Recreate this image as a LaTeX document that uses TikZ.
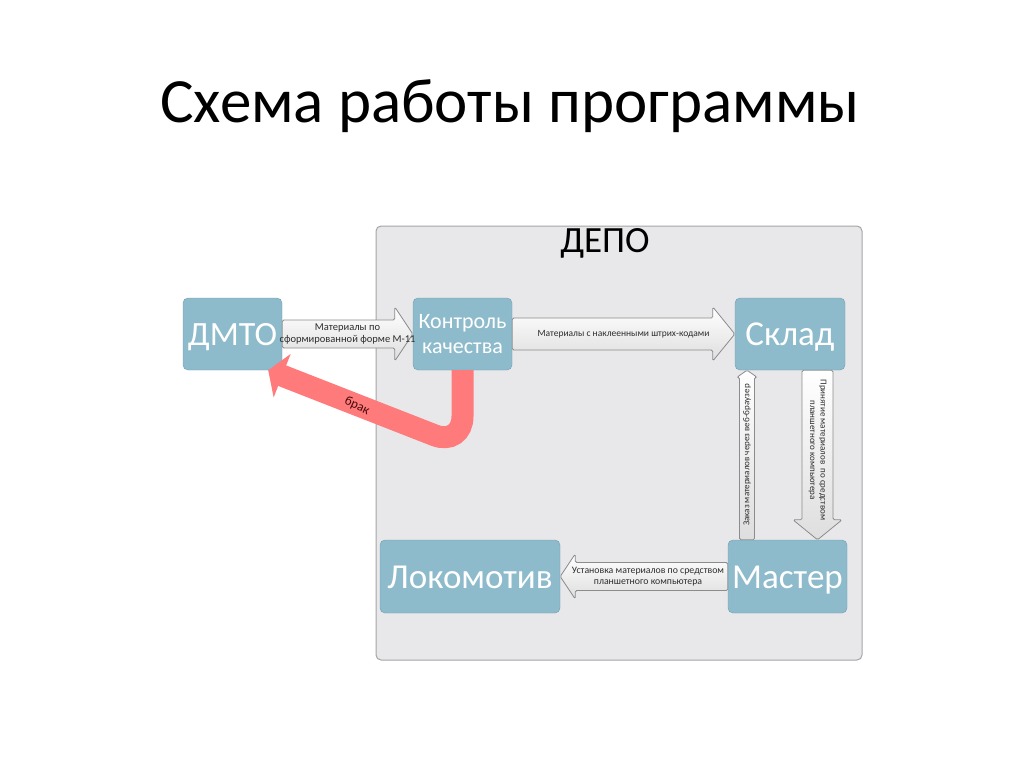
\documentclass[tikz,border=0pt]{standalone}
\usepackage{fontspec}
\setmainfont{Carlito}
\usetikzlibrary{calc,arrows.meta}
\definecolor{boxblue}{RGB}{142,187,204}
\definecolor{boxline}{RGB}{112,156,175}
\definecolor{depofill}{RGB}{232,232,234}
\definecolor{depoline}{RGB}{165,165,168}
\definecolor{brakred}{RGB}{255,122,122}
\definecolor{braktxt}{RGB}{70,10,10}
\definecolor{arrline}{RGB}{140,140,140}
\definecolor{arrtxt}{RGB}{45,45,45}

%% block arrow: tail, tip, half body, half head, head length
\newcommand{\blockarrow}[5]{%
  \coordinate (hb) at ($(#2)!#5!(#1)$);
  \draw[blockarr] ($(#1)!#3!90:(#2)$) -- ($(hb)!#3!90:(#2)$) -- ($(hb)!#4!90:(#2)$) -- (#2)
    -- ($(hb)!#4!-90:(#2)$) -- ($(hb)!#3!-90:(#2)$) -- ($(#1)!#3!-90:(#2)$) -- cycle;}

\begin{document}
\begin{tikzpicture}[x=1pt,y=-1pt,
    box/.style={draw=boxline, fill=boxblue, rounded corners=5pt, text=white, align=center, inner sep=0pt},
    bigtext/.style={font=\fontsize{35}{38}\selectfont, text height=23pt, text depth=0pt},
    depo/.style={draw=depoline, fill=depofill, rounded corners=5pt, line width=1pt, inner sep=0pt},
    blockarr/.style={draw=arrline, top color=white, bottom color=black!13, rounded corners=1.5pt, line width=0.8pt},
    arrtext/.style={text=arrtxt, font=\fontsize{9.5}{11.5}\selectfont, align=center, inner sep=0pt},
    brak/.style={draw=brakred, line width=22pt, rounded corners=30pt, -{Triangle[length=15pt,width=46pt]}}]
  \useasboundingbox (0,0) rectangle (1024,768);

  %%title
  \node[anchor=base, font=\fontsize{63}{70}\selectfont] (title) at (510,122) {Схема работы программы};

  %%depo
  \node[depo, minimum width=486pt, minimum height=434pt] (depo) at (619,443) {};
  \node[anchor=base, font=\fontsize{37}{40}\selectfont] (depolabel) at (605,252) {ДЕПО};

  %%boxes
  \node[box, bigtext, minimum width=99pt, minimum height=72pt, font=\fontsize{34}{36}\selectfont] (dmto) at (232.5,334) {ДМТО};
  \node[box, minimum width=99pt, minimum height=72pt, font=\fontsize{22}{25}\selectfont] (kk) at (462.5,334) {Контроль\\качества};
  \node[box, bigtext, minimum width=110pt, minimum height=72pt] (sklad) at (790,334) {Склад};
  \node[box, bigtext, minimum width=180pt, minimum height=73pt] (loko) at (470,576.5) {Локомотив};
  \node[box, bigtext, minimum width=119pt, minimum height=73pt] (master) at (787.5,576.5) {Мастер};

  %%brak
  \coordinate (bend) at ($(kk.south)+(0,76)$);
  \coordinate (brakend) at ([xshift=-14pt]dmto.south east);
  \draw[brak] (kk.south) -- (bend) -- (brakend);
  \node[text=braktxt, font=\fontsize{13}{14}\selectfont, rotate=-25, inner sep=0pt] (braklabel) at (357,406) {брак};

  %%arrows
  \blockarrow{dmto.east}{kk.west}{14pt}{27pt}{18pt}
  \blockarrow{kk.east}{sklad.west}{16pt}{27pt}{22pt}
  \coordinate (upa) at ([xshift=-40.5pt]master.north);
  \coordinate (upb) at ([xshift=-43pt]sklad.south);
  \blockarrow{upa}{upb}{7.5pt}{10pt}{7pt}
  \coordinate (dna) at ([xshift=27.5pt]sklad.south);
  \coordinate (dnb) at ([xshift=30pt]master.north);
  \blockarrow{dna}{dnb}{15.5pt}{24.5pt}{20pt}
  \blockarrow{master.west}{loko.east}{14pt}{22.5pt}{15pt}

  %%arrow texts
  \node[arrtext, font=\fontsize{10.5}{12.5}\selectfont] (t1) at ($(dmto.east)!0.5!(kk.west)$) {Материалы по\\сформированной форме М-11};
  \node[arrtext] (t2) at ($(kk.east)!0.5!(sklad.west)$) {Материалы с наклеенными штрих-кодами};
  \node[arrtext, font=\fontsize{9}{10.5}\selectfont, rotate=90] (t3) at ($(upa)!0.5!(upb)$) {Заказ материалов через веб-браузер};
  \node[arrtext, font=\fontsize{9}{10.5}\selectfont, rotate=-90] (t4) at ($(dna)!0.5!(dnb)+(0,-5)$) {Принятие материалов\ \ по средством\\планшетного компьютера};
  \node[arrtext, font=\fontsize{9.8}{11.5}\selectfont] (t5) at ($(master.west)!0.5!(loko.east)+(4,0)$) {Установка материалов по средством\\планшетного компьютера};
\end{tikzpicture}
\end{document}
